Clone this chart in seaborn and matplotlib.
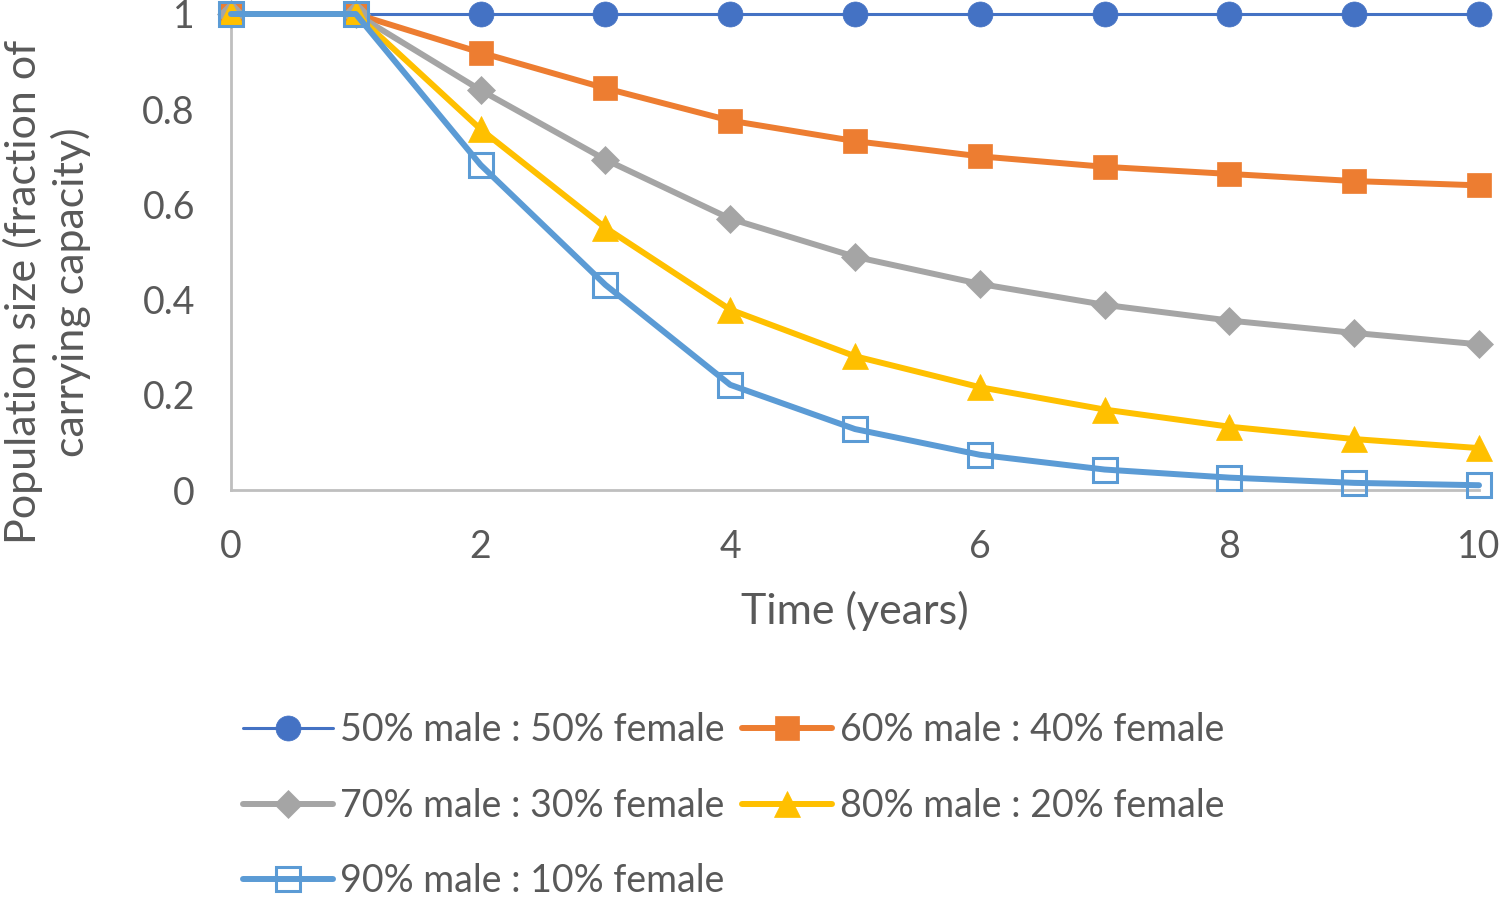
import pandas as pd
import matplotlib
matplotlib.use("Agg")
import matplotlib.pyplot as plt
import seaborn as sns

years = list(range(0, 11))
ratio_labels = [
    "50% male : 50% female",
    "60% male : 40% female",
    "70% male : 30% female",
    "80% male : 20% female",
    "90% male : 10% female",
]
pop_50 = [1, 1, 1, 1, 1, 1, 1, 1, 1, 1, 1]
pop_60 = [1, 1, 0.919, 0.844, 0.776, 0.733, 0.701, 0.679, 0.664, 0.649, 0.640]
pop_70 = [1, 1, 0.840, 0.694, 0.570, 0.490, 0.433, 0.389, 0.356, 0.330, 0.306]
pop_80 = [1, 1, 0.758, 0.551, 0.379, 0.281, 0.216, 0.169, 0.133, 0.107, 0.088]
pop_90 = [1, 1, 0.683, 0.431, 0.221, 0.128, 0.074, 0.043, 0.026, 0.015, 0.010]

series = [pop_50, pop_60, pop_70, pop_80, pop_90]
colors = ["#4472C4", "#ED7D31", "#A5A5A5", "#FFC000", "#5B9BD5"]
markers = ["o", "s", "D", "^", "s"]
msizes = [18, 17, 14, 19, 17]

sns.set_style("white")
plt.rcParams["font.family"] = ["Lato", "DejaVu Sans"]
txt = "#595959"

fig = plt.figure(figsize=(15, 8.99), dpi=100)
ax = fig.add_axes([231 / 1500, 1 - 490 / 899, (1479 - 231) / 1500, (490 - 14) / 899])

for i, (vals, lab) in enumerate(zip(series, ratio_labels)):
    df = pd.DataFrame({"year": years, "pop": vals})
    open_sq = i == 4
    sns.lineplot(data=df, x="year", y="pop", ax=ax, label=lab,
                 color=colors[i], marker=markers[i], markersize=msizes[i],
                 linewidth=2.2 if i == 0 else 4.3,
                 markerfacecolor="none" if open_sq else colors[i],
                 markeredgecolor=colors[i],
                 markeredgewidth=2.2 if open_sq else 0.5,
                 clip_on=False, zorder=3 + i)

ax.set_xlim(0, 10)
ax.set_ylim(0, 1)
ax.set_xticks([0, 2, 4, 6, 8, 10])
ax.set_yticks([0, 0.2, 0.4, 0.6, 0.8, 1])
ax.set_yticklabels(["0", "0.2", "0.4", "0.6", "0.8", "1"])
ax.tick_params(axis="both", length=0, labelsize=27, colors=txt)
ax.tick_params(axis="x", pad=28)
ax.tick_params(axis="y", pad=26)
for s in ["top", "right"]:
    ax.spines[s].set_visible(False)
for s in ["left", "bottom"]:
    ax.spines[s].set_color("#BFBFBF")
    ax.spines[s].set_linewidth(2)
    ax.spines[s].set_zorder(1)

ax.set_xlabel("Time (years)", fontsize=31, color=txt, labelpad=19)
ax.set_ylabel("")
fig.text(47 / 1500, 1 - 292 / 899, "Population size (fraction of\ncarrying capacity)",
         rotation=90, ha="center", va="center", fontsize=31, color=txt,
         multialignment="center", linespacing=1.25)

handles, labels = ax.get_legend_handles_labels()
ax.get_legend().remove()
order = [0, 2, 4, 1, 3]
fig.legend([handles[k] for k in order], [labels[k] for k in order],
           ncol=2, frameon=False, loc="upper left",
           bbox_to_anchor=(243 / 1500, 1 - 712 / 899), fontsize=27,
           labelcolor=txt, handlelength=2.4, handletextpad=0.2,
           columnspacing=0.45, labelspacing=1.06, borderpad=0, borderaxespad=0)

fig.savefig("out.png", dpi=100)
